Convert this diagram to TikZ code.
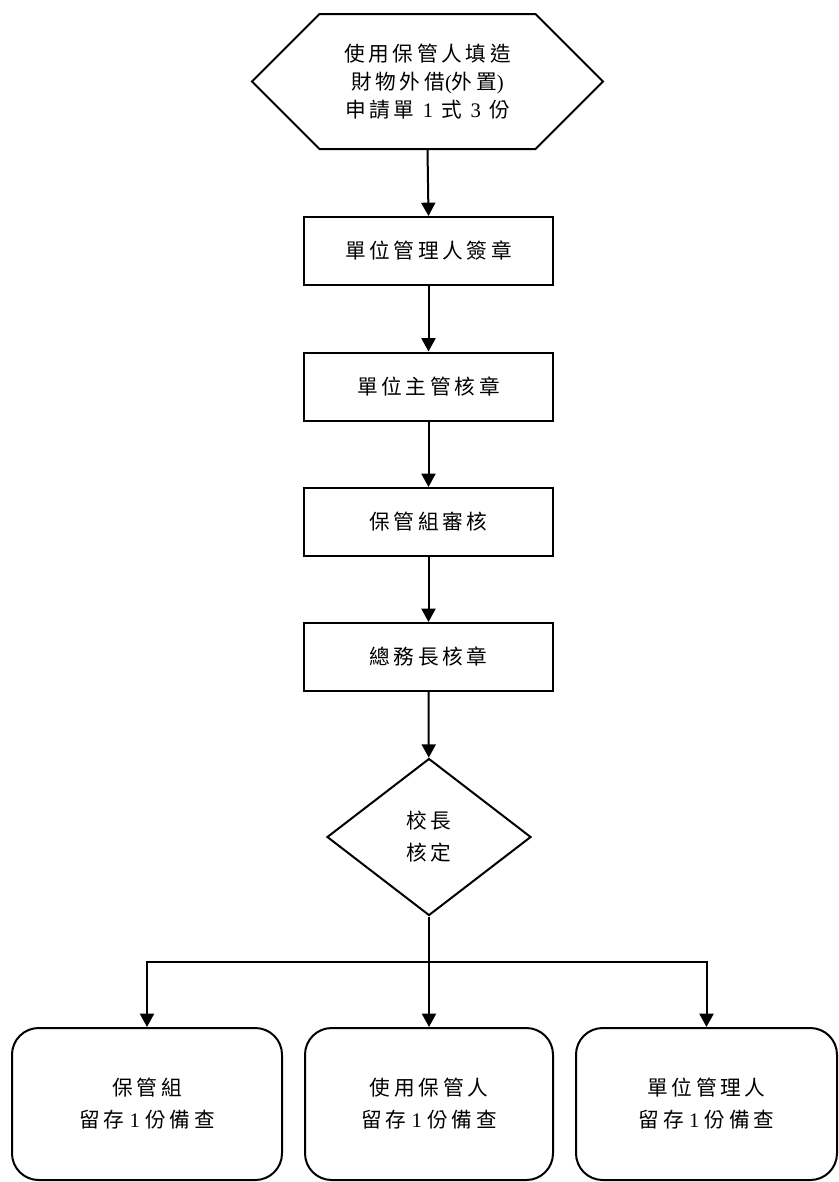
\documentclass[tikz,border=0pt]{standalone}
\usepackage{fontspec}
\setmainfont{Liberation Serif}
\newfontfamily\cjk[LetterSpace=18]{Noto Sans CJK TC}
\usetikzlibrary{shapes.geometric, shapes.symbols, arrows.meta, positioning}

\tikzset{
  flowline/.style={line width=1.5pt},
  flowarrow/.style={flowline, -{Triangle[width=10.5pt,length=10pt]}},
  formbox/.style={draw, flowline, signal, signal to=west and east, signal pointer angle=90,
    minimum width=263.25pt, minimum height=101.25pt, inner sep=0pt, align=center},
  stepbox/.style={draw, flowline, rectangle, minimum width=186.75pt, minimum height=51pt, inner sep=0pt},
  decision/.style={draw, flowline, diamond, aspect=1.3, minimum width=153pt, minimum height=117.75pt,
    inner sep=0pt, align=center},
  keepbox/.style={draw, flowline, rectangle, rounded corners=20pt, minimum height=114pt,
    inner sep=0pt, align=center}
}

\begin{document}
\begin{tikzpicture}[x=0.75pt, y=-0.75pt, font=\cjk\fontsize{15.5}{21}\selectfont]
\useasboundingbox (0,0) rectangle (839,1182);

% Application form
\node[formbox] (form) at (427.5,81.5) {使用保管人填造\\財物外借{\rmfamily(}外置{\rmfamily)}\\申請單 {\rmfamily 1} 式 {\rmfamily 3} 份};

% Signing steps
\node[stepbox] (unitsign) at (428.5,251) {單位管理人簽章};
\node[stepbox] (headsign) at (428.5,386.5) {單位主管核章};
\node[stepbox] (review) at (428.5,522) {保管組審核};
\node[stepbox] (chiefsign) at (428.5,657) {總務長核章};

% President approval
\node[decision] (approve) at (429,837) {校長\\[3pt]核定};

% Copies kept
\node[keepbox, minimum width=202.5pt] (keepgroup) at (147,1104) {保管組\\[3pt]留存{\rmfamily\hspace{4pt}1\hspace{4pt}}份備查};
\node[keepbox, minimum width=186pt] (keepuser) at (429,1104) {使用保管人\\[3pt]留存{\rmfamily\hspace{4pt}1\hspace{4pt}}份備查};
\node[keepbox, minimum width=195.75pt] (keepunit) at (706.5,1104) {單位管理人\\[3pt]留存{\rmfamily\hspace{4pt}1\hspace{4pt}}份備查};

\draw[flowarrow] (form.south) -- (unitsign.north);
\draw[flowarrow] (unitsign) -- (headsign);
\draw[flowarrow] (headsign) -- (review);
\draw[flowarrow] (review) -- (chiefsign);
\draw[flowarrow] (chiefsign) -- (approve);

\coordinate (split) at (429,962);
\draw[flowline] (approve.south) -- (split);
\draw[flowarrow] (split) -| (keepgroup.north);
\draw[flowarrow] (split) -- (keepuser.north);
\draw[flowarrow] (split) -| (keepunit.north);
\end{tikzpicture}
\end{document}
